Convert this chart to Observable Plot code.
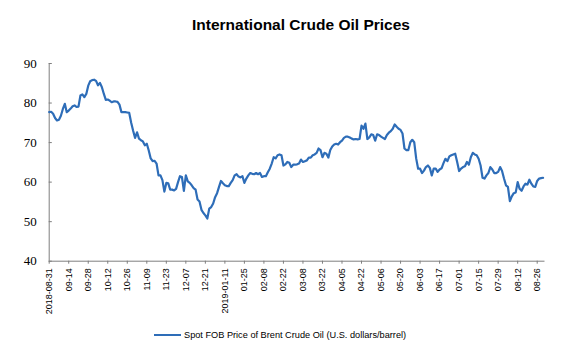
<!DOCTYPE html>
<html><head><meta charset="utf-8">
<script src="https://cdn.jsdelivr.net/npm/d3@7"></script>
<script src="https://cdn.jsdelivr.net/npm/@observablehq/plot@0.6"></script>
<style>
body{margin:0;background:#fff;}
#wrap{position:relative;width:561px;height:357px;overflow:hidden;}
#chart{position:absolute;left:0;top:0;}
#title{position:absolute;left:0;top:16px;width:602px;text-align:center;font:bold 15.5px "Liberation Sans",Arial,sans-serif;color:#000;}
#legend{position:absolute;left:154px;top:330px;font:9.2px "Liberation Sans",Arial,sans-serif;color:#000;white-space:nowrap;display:flex;align-items:center;}
#legend .sw{display:inline-block;width:27px;height:2px;background:#2E6DB8;margin-right:3px;}
</style></head><body>
<div id="wrap">
  <div id="chart"></div>
  <div id="title">International Crude Oil Prices</div>
  <div id="legend"><span class="sw"></span><span id="legtext"></span></div>
</div>
<script>
const seriesName = "Spot FOB Price of Brent Crude Oil (U.S. dollars/barrel)";
const tickLabels = ["2018-08-31","09-14","09-28","10-12","10-26","11-09","11-23","12-07","12-21","2019-01-11","01-25","02-08","02-22","03-08","03-22","04-05","04-22","05-06","05-20","06-03","06-17","07-01","07-15","07-29","08-12","08-26"];
const yTicks = [40, 50, 60, 70, 80, 90];
// Daily Brent spot price, one value per trading day
const prices = [
  77.7, 77.8, 77.3, 76.2, 75.6, 75.8, 76.8, 78.5, 79.8, 77.7,
  78.1, 78.6, 79.2, 79.4, 79.0, 79.1, 81.9, 82.2, 81.5, 82.3,
  84.4, 85.5, 85.8, 85.9, 85.6, 84.5, 85.1, 84.0, 82.3, 80.8,
  80.9, 80.6, 80.2, 80.4, 80.4, 80.3, 79.6, 77.7, 77.7, 77.7,
  77.6, 77.5, 75.0, 73.0, 71.2, 72.6, 71.0, 70.6, 70.3, 69.3,
  69.7, 68.0, 66.0, 65.3, 65.4, 64.7, 61.7, 61.7, 60.5, 57.6,
  59.8, 59.7, 58.1, 58.1, 57.9, 58.3, 60.0, 61.5, 61.3, 57.8,
  61.7, 60.2, 59.8, 59.2, 58.5, 58.1, 55.6, 55.1, 53.0, 52.2,
  51.6, 50.8, 53.3, 53.7, 54.6, 56.2, 57.2, 58.8, 60.3, 59.7,
  59.2, 59.0, 59.0, 59.8, 60.5, 61.7, 62.0, 61.4, 61.2, 61.5,
  59.8, 60.9, 61.7, 62.3, 62.1, 62.0, 62.3, 62.0, 62.3, 61.3,
  61.5, 61.5, 62.5, 63.4, 64.7, 66.3, 66.0, 66.8, 67.0, 66.8,
  64.2, 64.5, 65.1, 64.9, 63.8, 64.4, 64.4, 64.5, 64.7, 65.7,
  65.1, 65.3, 65.5, 66.2, 66.2, 66.8, 67.0, 67.4, 68.5, 68.1,
  66.3, 67.4, 67.2, 66.2, 68.1, 69.0, 69.5, 69.7, 69.5, 70.1,
  70.5, 71.2, 71.5, 71.5, 71.3, 71.0, 70.8, 70.9, 70.8, 70.9,
  74.3, 73.5, 74.8, 70.9, 71.3, 72.1, 71.9, 70.5, 72.1, 71.9,
  71.5, 71.2, 70.9, 71.9, 72.5, 72.9, 73.5, 74.6, 74.0, 73.5,
  73.2, 72.3, 68.5, 68.1, 68.1, 70.1, 70.7, 70.1, 66.0, 63.4,
  63.4, 62.3, 62.9, 63.8, 64.2, 63.6, 61.7, 63.4, 63.4, 62.6,
  63.2, 63.5, 64.8, 65.9, 65.3, 66.5, 66.8, 67.0, 67.2, 65.1,
  62.8, 63.4, 63.8, 64.0, 65.1, 64.4, 66.3, 67.4, 67.0, 66.8,
  65.9, 64.2, 61.1, 60.9, 61.7, 62.3, 63.8, 63.2, 62.3, 62.3,
  62.6, 63.8, 62.8, 60.9, 59.2, 58.8, 55.2, 56.4, 57.2, 57.4,
  60.0, 58.3, 57.8, 58.9, 59.6, 59.4, 60.6, 59.6, 58.9, 58.8,
  60.3, 60.9, 61.0, 61.1
];
const tickIdx = tickLabels.map((_, k) => k * 10);
const data = prices.map((v, i) => ({i, v}));
const axisColor = "#7f7f7f";
const lineColor = "#2E6DB8";

const chart = Plot.plot({
  width: 561, height: 357,
  marginLeft: 48.7, marginRight: 16.5, marginTop: 63, marginBottom: 96.3,
  style: {background: "transparent", fontFamily: "'Liberation Sans', Arial, sans-serif", fontSize: "9px", color: "#000", overflow: "visible"},
  x: {domain: [0, 254], label: null},
  y: {domain: [40, 90], label: null, axis: null},
  marks: [
    Plot.ruleX([0], {stroke: axisColor, strokeWidth: 1}),
    Plot.ruleY([40], {stroke: axisColor, strokeWidth: 1}),
    Plot.ruleY(yTicks, {x1: 0, x2: 1.6, stroke: axisColor}),
    Plot.text(yTicks, {x: 0, y: d => d, text: d => String(d), dx: -12.5, textAnchor: "end", fontFamily: "Liberation Serif", fontSize: 13, fill: "#000"}),
    Plot.axisX({ticks: tickIdx, tickSize: 3, tickPadding: 4, tickRotate: -90, stroke: axisColor, tickFormat: i => tickLabels[i / 10], label: null}),
    Plot.line(data, {x: "i", y: "v", stroke: lineColor, strokeWidth: 2.2})
  ]
});
document.getElementById("chart").appendChild(chart);
document.getElementById("legtext").textContent = seriesName;
document.querySelector("#legend .sw").style.background = lineColor;
</script>
</body></html>
